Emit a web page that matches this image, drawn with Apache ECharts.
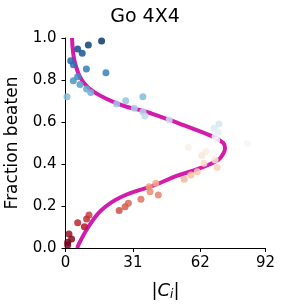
<!DOCTYPE html>
<html>
<head>
<meta charset="utf-8">
<script src="https://cdn.jsdelivr.net/npm/echarts@6/dist/echarts.min.js"></script>
<style>html,body{margin:0;padding:0;background:#fff}#c{width:281px;height:307px}</style>
</head>
<body>
<div id="c"></div>
<script>
const titleText = 'Go 4X4';
const xTicks = [0, 31, 62, 92];
const yTicks = [0, 0.2, 0.4, 0.6, 0.8, 1.0];
const pointsX = [16.6,10.5,5.6,7.7,2.4,3.6,9.6,18.6,5.6,3.6,6.7,9.7,11.6,0.7,23.5,27.7,31.7,35.6,35.6,36.6,47.7,70.6,68.4,70.3,68.8,69.5,83.6,56.5,64.6,62.6,68.8,63.7,69.8,60.6,57.7,54.6,41.5,38.5,38.9,42.7,34.7,28.9,27.4,24.7,10.8,9.7,5.6,8.7,1.6,2.8,1.0,1.0];
const pointsY = [0.986,0.967,0.948,0.927,0.892,0.873,0.852,0.835,0.816,0.797,0.779,0.757,0.741,0.72,0.686,0.701,0.665,0.72,0.649,0.629,0.61,0.59,0.57,0.551,0.53,0.514,0.498,0.478,0.459,0.44,0.419,0.403,0.383,0.363,0.348,0.327,0.308,0.292,0.268,0.252,0.232,0.213,0.197,0.178,0.157,0.138,0.12,0.101,0.067,0.043,0.027,0.014];
const curveX = [3.0,3.4,4.4,7.5,13.6,25.8,36.6,48.9,54.0,67.8,72.6,73.4,72.6,70.2,61.9,51.1,41.2,25.8,16.6,10.5,5.9,5.5];
const curveY = [1.0,0.94,0.88,0.80,0.74,0.68,0.65,0.606,0.586,0.53,0.50,0.475,0.45,0.419,0.38,0.343,0.30,0.244,0.181,0.10,0.014,0.0];
const rdbu = ['#67001f','#b2182b','#d6604d','#f4a582','#fddbc7','#f7f7f7','#d1e5f0','#92c5de','#4393c3','#2166ac','#053061'];

const scatterData = pointsX.map((x, i) => [x, pointsY[i]]);
const curveData = curveX.map((x, i) => [x, curveY[i]]);
const font = 'DejaVu Sans';

const chart = echarts.init(document.getElementById('c'), null, {renderer: 'canvas'});
chart.setOption({
  animation: false,
  title: {
    text: titleText, left: 140, top: 3, textAlign: 'center',
    textStyle: {fontFamily: font, fontSize: 19, fontWeight: 'normal', color: '#000'}
  },
  grid: {left: 65.5, right: 15.5, top: 38, bottom: 59, containLabel: false, outerBoundsMode: 'none'},
  visualMap: {
    show: false, type: 'continuous', dimension: 1, min: 0, max: 1,
    seriesIndex: 1,
    inRange: {color: rdbu}
  },
  xAxis: {
    type: 'value', min: 0, max: 92, offset: 4,
    name: '|{i|C}{s|i}|', nameLocation: 'middle', nameGap: 29,
    nameTextStyle: {fontFamily: font, fontSize: 18, color: '#000',
      rich: {i: {fontFamily: font, fontSize: 18, fontStyle: 'italic', color: '#000'},
             s: {fontFamily: font, fontSize: 12, fontStyle: 'italic', color: '#000', verticalAlign: 'bottom', padding: [8,0,0,0]}}},
    splitLine: {show: false},
    axisLine: {show: true, lineStyle: {color: '#000', width: 1}},
    axisTick: {show: true, length: 4, lineStyle: {color: '#000'}, customValues: xTicks},
    axisLabel: {fontFamily: font, fontSize: 15, color: '#000', margin: 4, customValues: xTicks}
  },
  yAxis: {
    type: 'value', min: 0, max: 1, interval: 0.2, offset: 5,
    name: 'Fraction beaten', nameLocation: 'middle', nameGap: 39, nameRotate: 90,
    nameTextStyle: {fontFamily: font, fontSize: 17, color: '#000'},
    splitLine: {show: false},
    axisLine: {show: true, lineStyle: {color: '#000', width: 1}},
    axisTick: {show: true, length: 4, lineStyle: {color: '#000'}},
    axisLabel: {fontFamily: font, fontSize: 15, color: '#000', margin: 4,
      formatter: v => v.toFixed(1)}
  },
  series: [
    {
      type: 'line', data: curveData, smooth: 0.4, showSymbol: false, symbol: 'none',
      lineStyle: {color: '#d41cac', width: 4}, z: 2, clip: false
    },
    {
      type: 'scatter', data: scatterData, symbolSize: 7,
      itemStyle: {opacity: 0.85}, z: 3, clip: false
    }
  ]
});
</script>
</body>
</html>
